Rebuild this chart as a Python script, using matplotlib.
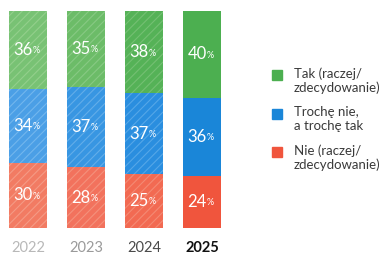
import matplotlib
matplotlib.use("Agg")
import matplotlib.pyplot as plt
from matplotlib.patches import Rectangle
import numpy as np

years = ['2022', '2023', '2024', '2025']
tak = [36, 35, 38, 40]
troche = [34, 37, 37, 36]
nie = [30, 28, 25, 24]
legend_labels = ['Tak (raczej/\nzdecydowanie)', 'Trochę nie,\na trochę tak', 'Nie (raczej/\nzdecydowanie)']

plt.rcParams['font.family'] = ['Lato', 'DejaVu Sans']
plt.rcParams['hatch.linewidth'] = 0.8

W, H = 382, 256
fig = plt.figure(figsize=(W / 100, H / 100), dpi=100)
fig.patch.set_facecolor('white')

ax = fig.add_axes([2 / W, 1 - 228 / H, (228 - 2) / W, (228 - 11) / H])
ax.set_xlim(-0.45, 3.45)
ax.set_ylim(0, 100)
ax.axis('off')

base = {'tak': '#4caf50', 'troche': '#1a86d8', 'nie': '#f0553d'}
light = {'tak': ['#78c274', '#6cbc68', '#55b257', '#4caf50'],
         'troche': ['#4b9fe6', '#3896e2', '#2a8edf', '#1a86d8'],
         'nie': ['#f27b63', '#f2725d', '#f26a52', '#f0553d']}
hatch_col = {'tak': ['#93cf8c', '#88c984', '#74c073'],
             'troche': ['#72b6ee', '#63ade9', '#55a7e8'],
             'nie': ['#f59a85', '#f4917c', '#f48a74']}

x = np.arange(len(years))
w = 0.655
for i in range(len(years)):
    bottom = 0
    for key, vals in (('nie', nie), ('troche', troche), ('tak', tak)):
        v = vals[i]
        hatched = i < 3
        ax.bar(x[i], v, width=w, bottom=bottom, color=light[key][i],
               edgecolor=hatch_col[key][i] if hatched else light[key][i],
               hatch='////' if hatched else None, linewidth=0)
        yc = bottom + v / 2
        ax.text(x[i] + 0.08, yc, str(v), color='white', fontsize=12,
                ha='right', va='center', zorder=5)
        ax.text(x[i] + 0.085, yc - 0.4, '%', color='white', fontsize=6.5,
                ha='left', va='center', zorder=5)
        bottom += v

year_colors = ['#b8b8b8', '#9a9a9a', '#4a4a4a', '#111111']
year_weights = ['normal', 'normal', 'normal', 'bold']
for i, yr in enumerate(years):
    ax.text(x[i], -9.2, yr, color=year_colors[i], fontsize=10.5,
            fontweight=year_weights[i], ha='center', va='center',
            transform=ax.transData, clip_on=False)

sq_y = [75, 114, 152]
cols = [base['tak'], base['troche'], base['nie']]
for c, sy, lab in zip(cols, sq_y, legend_labels):
    fig.patches.append(Rectangle((272 / W, 1 - (sy + 5) / H), 10 / W, 10 / H,
                                 transform=fig.transFigure, color=c))
    fig.text(294 / W, 1 - (sy - 8) / H, lab, fontsize=9.5, color='#3a3a3a',
             ha='left', va='top', linespacing=1.15)

fig.savefig('out.png', dpi=100, facecolor='white')
